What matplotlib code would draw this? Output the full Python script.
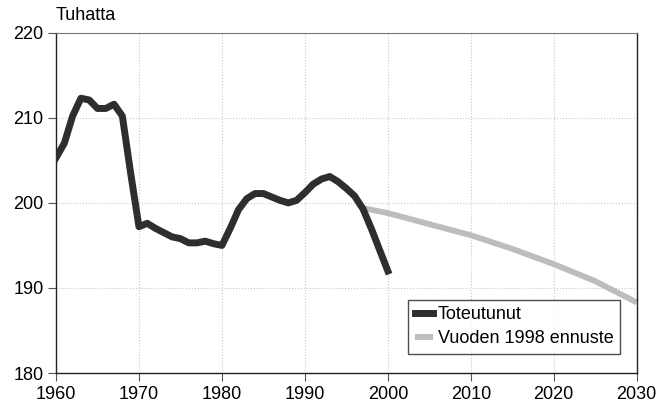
import numpy as np
import matplotlib
matplotlib.use("Agg")
import matplotlib.pyplot as plt

# toteutunut (actual), thousands
years = [1960, 1961, 1962, 1963, 1964, 1965, 1966, 1967, 1968, 1969,
         1970, 1971, 1972, 1973, 1974, 1975, 1976, 1977, 1978, 1979,
         1980, 1981, 1982, 1983, 1984, 1985, 1986, 1987, 1988, 1989,
         1990, 1991, 1992, 1993, 1994, 1995, 1996, 1997, 1998, 1999, 2000]
actual = [205.3, 207.0, 210.2, 212.3, 212.1, 211.1, 211.1, 211.6, 210.2, 203.5,
          197.2, 197.6, 197.0, 196.5, 196.0, 195.8, 195.3, 195.3, 195.5, 195.2,
          195.0, 197.0, 199.2, 200.5, 201.1, 201.1, 200.7, 200.3, 200.0, 200.3,
          201.2, 202.2, 202.8, 203.1, 202.5, 201.7, 200.8, 199.3, 197.0, 194.5, 192.0]

# vuoden 1998 ennuste (forecast)
fc_years = [1997, 2000, 2005, 2010, 2015, 2020, 2025, 2030]
forecast = [199.4, 198.8, 197.5, 196.2, 194.6, 192.8, 190.8, 188.3]

plt.rcParams['font.family'] = ['Liberation Sans Narrow', 'Liberation Sans', 'DejaVu Sans']

fig = plt.figure(figsize=(6.69, 4.07), dpi=100)
ax = fig.add_axes([0.0837, 0.0835, 0.868, 0.836])

ax.plot(fc_years, forecast, color='#bdbdbd', lw=4.2, solid_capstyle='butt',
        label='Vuoden 1998 ennuste', zorder=2)
ax.plot(years, actual, color='#2e2e2e', lw=5.0, solid_joinstyle='round',
        label='Toteutunut', zorder=3)

ax.set_xlim(1960, 2030)
ax.set_ylim(180, 220)
ax.set_xticks(np.arange(1960, 2031, 10))
ax.set_yticks(np.arange(180, 221, 10))
ax.grid(True, color='#c8c8c8', linestyle=':', linewidth=0.8)
ax.tick_params(labelsize=13, length=6, width=0.8, color='#555555', pad=3)

for s in ['left', 'bottom', 'right']:
    ax.spines[s].set_color('#222222')
    ax.spines[s].set_linewidth(1.0)
ax.spines['top'].set_color('#777777')
ax.spines['top'].set_linewidth(0.8)

ax.text(0.0, 1.025, 'Tuhatta', transform=ax.transAxes, fontsize=13,
        ha='left', va='bottom')

handles, labels = ax.get_legend_handles_labels()
leg = ax.legend(handles[::-1], labels[::-1], loc='lower right', fontsize=13,
                frameon=True, fancybox=False, edgecolor='#222222',
                handlelength=1.0, handletextpad=0.3, borderpad=0.35,
                labelspacing=0.4, bbox_to_anchor=(0.987, 0.03))
leg.get_frame().set_linewidth(1.0)

fig.savefig('out.png', dpi=100)
